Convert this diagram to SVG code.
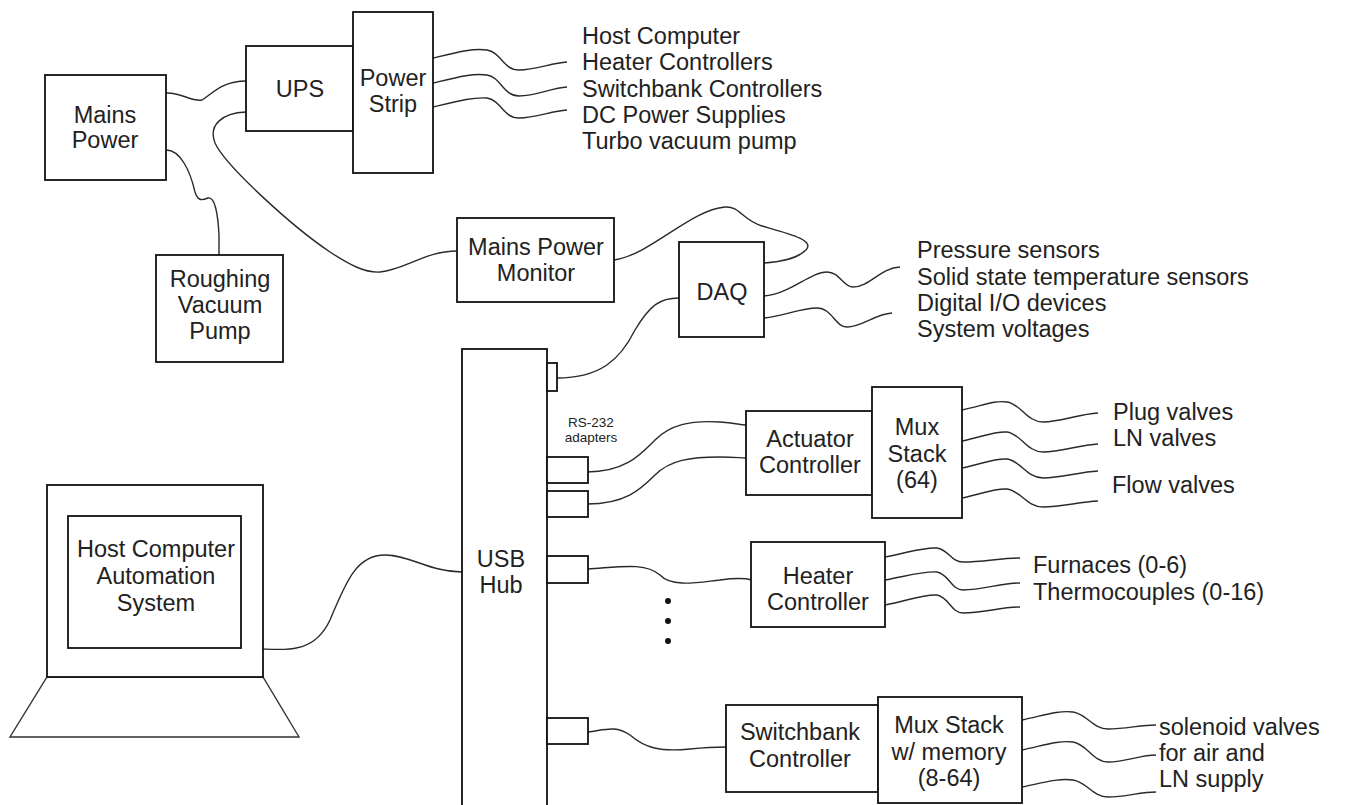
<svg xmlns="http://www.w3.org/2000/svg" width="1346" height="805" viewBox="0 0 1346 805">
<style>
.box{fill:#fff;stroke:#111;stroke-width:1.8}
.w{fill:none;stroke:#2a2a2a;stroke-width:1.4}
.t{font-family:"Liberation Sans",Arial,sans-serif;font-size:23.5px;fill:#222}
.c{text-anchor:middle}
.s{font-family:"Liberation Sans",Arial,sans-serif;font-size:13.5px;fill:#222;text-anchor:middle}
</style>
<rect width="1346" height="805" fill="#fff"/>
<g id="connectors">
<path class="w" d="M166,93 C180,92 192,102 202,100 C212,94 222,81 246,81"/>
<path class="w" d="M246,112 C222,113 208,125 215,143 C225,165 290,225 330,252 C350,265 365,273 380,272 C405,270 425,251 457,251"/>
<path class="w" d="M166,150 C180,150 190,170 195,192 C198,202 203,200 208,198 C215,196 218,215 219,235 L219,255"/>
<path class="w" d="m433,58 c25,-6 40,-10 54,-8 c14,2 16,20 32,20 c17,0 32,-7 48,-8"/>
<path class="w" d="m433,83 c25,-6 40,-10 54,-8 c14,2 16,21 32,21 c17,0 32,-8 48,-9"/>
<path class="w" d="m433,107 c25,-6 40,-10 54,-9 c14,2 16,20 32,20 c17,0 32,-7 48,-8"/>
<path class="w" d="M614,260 C650,255 690,210 725,207 C740,206 742,220 762,226 C790,234 815,240 806,250 C798,258 780,262 764,263"/>
<path class="w" d="M764,296 C790,294 810,272 827,272 C840,272 843,287 853,287 C870,287 880,268 900,267"/>
<path class="w" d="M764,318 C785,316 800,308 817,308 C832,308 835,327 847,327 C862,327 875,314 892,313"/>
<path class="w" d="M557,378 C600,378 620,360 635,330 C650,305 660,298 679,298"/>
<path class="w" d="M587,472 C625,472 640,455 655,440 C670,425 690,420 720,422 C735,423 740,425 746,425"/>
<path class="w" d="M587,504 C625,504 640,490 655,475 C670,460 690,457 720,457 C735,457 740,458 746,458"/>
<path class="w" d="m962,410 c20,-4 32,-10 45,-8 c14,2 20,20 36,20 c18,0 36,-8 55,-9"/>
<path class="w" d="m962,441 c20,-4 32,-10 45,-9 c14,2 20,20 36,20 c18,0 36,-7 55,-8"/>
<path class="w" d="m962,468 c20,-4 32,-10 45,-9 c14,2 20,19 36,19 c18,0 36,-6 55,-7"/>
<path class="w" d="m962,498 c20,-4 32,-10 45,-9 c14,2 20,18 36,18 c18,0 36,-5 55,-6"/>
<path class="w" d="M588,569 C620,567 645,562 660,575 C672,588 700,582 720,580 C735,578 745,578 752,580"/>
<path class="w" d="m885,557 c22,-4 38,-10 52,-9 c12,2 14,14 26,14 c20,0 38,-4 57,-4"/>
<path class="w" d="m885,580 c22,-4 38,-9 52,-8 c12,2 14,18 26,18 c20,0 38,-7 57,-7"/>
<path class="w" d="m885,605 c22,-4 38,-11 52,-10 c12,2 14,18 26,18 c20,0 38,-6 57,-6"/>
<path class="w" d="M588,732 C605,730 615,725 630,735 C645,748 660,752 690,749 C710,747 718,747 726,747"/>
<path class="w" d="m1022,720 c20,-4 36,-10 51,-8 c14,2 20,17 35,17 c18,0 32,-4 48,-4"/>
<path class="w" d="m1022,750 c20,-4 36,-10 51,-8 c14,2 20,20 35,20 c18,0 32,-7 48,-7"/>
<path class="w" d="m1022,787 c20,-4 36,-9 51,-7 c14,2 20,17 35,17 c18,0 32,-5 48,-5"/>
<path class="w" d="M263,649 C290,650 315,652 330,620 C345,585 355,555 385,555 C410,555 430,572 462,572"/>
</g>
<g id="mains-power">
<rect class="box" x="45" y="75" width="121" height="105"/>
<text class="t c" x="105" y="123">Mains</text>
<text class="t c" x="105" y="148">Power</text>
</g>
<g id="ups">
<rect class="box" x="246" y="46" width="107" height="85"/>
<text class="t c" x="300" y="97">UPS</text>
</g>
<g id="power-strip">
<rect class="box" x="353" y="12" width="80" height="161"/>
<text class="t c" x="393" y="86">Power</text>
<text class="t c" x="393" y="112">Strip</text>
</g>
<g id="power-loads">
<text class="t" x="582" y="44">Host Computer</text>
<text class="t" x="582" y="70">Heater Controllers</text>
<text class="t" x="582" y="97">Switchbank Controllers</text>
<text class="t" x="582" y="123">DC Power Supplies</text>
<text class="t" x="582" y="149">Turbo vacuum pump</text>
</g>
<g id="roughing-pump">
<rect class="box" x="156" y="255" width="127" height="107"/>
<text class="t c" x="220" y="287">Roughing</text>
<text class="t c" x="220" y="313">Vacuum</text>
<text class="t c" x="220" y="339">Pump</text>
</g>
<g id="mains-power-monitor">
<rect class="box" x="457" y="218" width="157" height="84"/>
<text class="t c" x="536" y="255">Mains Power</text>
<text class="t c" x="536" y="281">Monitor</text>
</g>
<g id="daq">
<rect class="box" x="679" y="242" width="85" height="95"/>
<text class="t c" x="722" y="300">DAQ</text>
</g>
<g id="daq-inputs">
<text class="t" x="917" y="258">Pressure sensors</text>
<text class="t" x="917" y="285">Solid state temperature sensors</text>
<text class="t" x="917" y="311">Digital I/O devices</text>
<text class="t" x="917" y="337">System voltages</text>
</g>
<g id="usb-hub">
<rect class="box" x="462" y="349" width="85" height="470"/>
<rect class="box" x="547" y="363" width="10" height="28"/>
<rect class="box" x="547" y="457" width="41" height="26"/>
<rect class="box" x="547" y="491" width="41" height="26"/>
<rect class="box" x="547" y="556" width="41" height="27"/>
<rect class="box" x="547" y="718" width="41" height="26"/>
<text class="t c" x="501" y="567">USB</text>
<text class="t c" x="501" y="593">Hub</text>
<text class="s" x="591" y="427">RS-232</text>
<text class="s" x="591" y="442">adapters</text>
<circle cx="668" cy="601" r="3" fill="#111"/>
<circle cx="668" cy="621" r="3" fill="#111"/>
<circle cx="668" cy="641" r="3" fill="#111"/>
</g>
<g id="actuator-controller">
<rect class="box" x="746" y="411" width="126" height="84"/>
<text class="t c" x="810" y="447">Actuator</text>
<text class="t c" x="810" y="473">Controller</text>
</g>
<g id="mux-stack">
<rect class="box" x="872" y="387" width="90" height="131"/>
<text class="t c" x="917" y="435">Mux</text>
<text class="t c" x="917" y="462">Stack</text>
<text class="t c" x="917" y="488">(64)</text>
</g>
<g id="valves">
<text class="t" x="1113" y="420">Plug valves</text>
<text class="t" x="1113" y="446">LN valves</text>
<text class="t" x="1112" y="493">Flow valves</text>
</g>
<g id="heater-controller">
<rect class="box" x="751" y="542" width="134" height="85"/>
<text class="t c" x="818" y="584">Heater</text>
<text class="t c" x="818" y="610">Controller</text>
</g>
<g id="heater-outputs">
<text class="t" x="1033" y="573">Furnaces (0-6)</text>
<text class="t" x="1033" y="600">Thermocouples (0-16)</text>
</g>
<g id="switchbank-controller">
<rect class="box" x="726" y="705" width="152" height="87"/>
<text class="t c" x="800" y="740">Switchbank</text>
<text class="t c" x="800" y="767">Controller</text>
</g>
<g id="mux-stack-memory">
<rect class="box" x="878" y="697" width="144" height="106"/>
<text class="t c" x="949" y="733">Mux Stack</text>
<text class="t c" x="949" y="760">w/ memory</text>
<text class="t c" x="949" y="786">(8-64)</text>
</g>
<g id="solenoid-outputs">
<text class="t" x="1159" y="735">solenoid valves</text>
<text class="t" x="1159" y="761">for air and</text>
<text class="t" x="1159" y="787">LN supply</text>
</g>
<g id="host-computer">
<polygon points="47,677 263,677 299,737 10,737" fill="#fff" stroke="#333" stroke-width="1.4"/>
<rect class="box" x="47" y="485" width="216" height="192"/>
<rect class="box" x="68" y="516" width="173" height="132"/>
<text class="t c" x="156" y="557">Host Computer</text>
<text class="t c" x="156" y="584">Automation</text>
<text class="t c" x="156" y="611">System</text>
</g>
</svg>
